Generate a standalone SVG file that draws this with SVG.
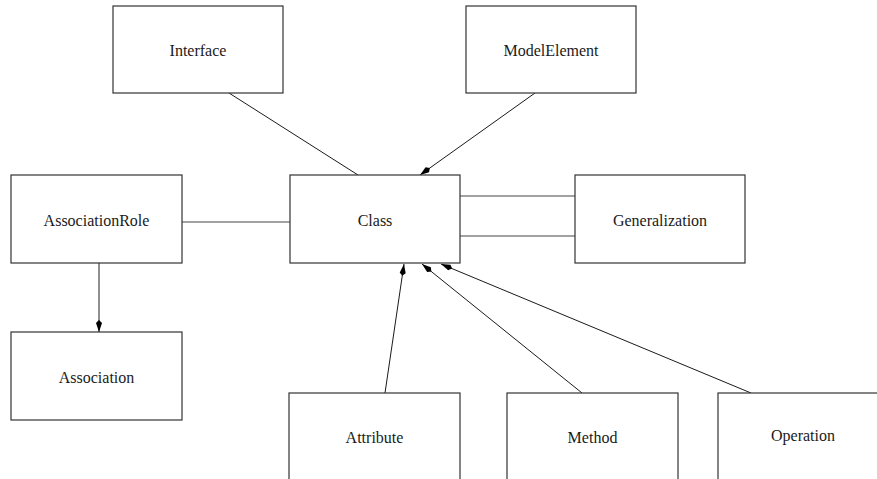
<svg xmlns="http://www.w3.org/2000/svg" width="877" height="479" viewBox="0 0 877 479">
  <style>
    .box { fill: #ffffff; stroke: #333333; stroke-width: 1.2; }
    .label { font-family: "Liberation Serif", "Times New Roman", serif; font-size: 16px; fill: #1a1a1a; text-anchor: middle; }
    .edge { fill: none; stroke: #1a1a1a; stroke-width: 1; }
    .edge-gray { fill: none; stroke: #444444; stroke-width: 1.2; }
  </style>
  <defs>
    <marker id="arrow" markerUnits="userSpaceOnUse" markerWidth="14" markerHeight="8" refX="12" refY="4" orient="auto">
      <path d="M0,4 L3,1 L12,4 L3,7 z" fill="#000000"/>
    </marker>
  </defs>
  <rect width="877" height="479" fill="#ffffff"/>

  <g id="connectors">
    <line class="edge" x1="229" y1="93" x2="358" y2="175"/>
    <line class="edge" x1="535" y1="93" x2="420" y2="175" marker-end="url(#arrow)"/>
    <line class="edge-gray" x1="182" y1="222" x2="290" y2="222"/>
    <line class="edge-gray" x1="460" y1="196" x2="575" y2="196"/>
    <line class="edge-gray" x1="460" y1="236" x2="575" y2="236"/>
    <line class="edge-gray" x1="99" y1="263" x2="99" y2="332" marker-end="url(#arrow)"/>
    <line class="edge" x1="385" y1="393" x2="404" y2="264" marker-end="url(#arrow)"/>
    <line class="edge" x1="582" y1="393" x2="422" y2="264" marker-end="url(#arrow)"/>
    <line class="edge" x1="751" y1="393" x2="441" y2="264" marker-end="url(#arrow)"/>
  </g>

  <g id="Interface">
    <rect class="box" x="113" y="6" width="170" height="87"/>
    <text class="label" x="198" y="56">Interface</text>
  </g>
  <g id="ModelElement">
    <rect class="box" x="466" y="6" width="170" height="87"/>
    <text class="label" x="551" y="56">ModelElement</text>
  </g>
  <g id="AssociationRole">
    <rect class="box" x="11" y="175" width="171" height="88"/>
    <text class="label" x="96.5" y="226">AssociationRole</text>
  </g>
  <g id="Class">
    <rect class="box" x="290" y="175" width="170" height="88"/>
    <text class="label" x="375" y="226">Class</text>
  </g>
  <g id="Generalization">
    <rect class="box" x="575" y="175" width="170" height="88"/>
    <text class="label" x="660" y="226">Generalization</text>
  </g>
  <g id="Association">
    <rect class="box" x="11" y="332" width="171" height="88"/>
    <text class="label" x="96.5" y="383">Association</text>
  </g>
  <g id="Attribute">
    <rect class="box" x="289" y="393" width="171" height="100"/>
    <text class="label" x="374.5" y="443">Attribute</text>
  </g>
  <g id="Method">
    <rect class="box" x="507" y="393" width="171" height="100"/>
    <text class="label" x="592.5" y="443">Method</text>
  </g>
  <g id="Operation">
    <rect class="box" x="718" y="393" width="170" height="100"/>
    <text class="label" x="803" y="441">Operation</text>
  </g>
</svg>
